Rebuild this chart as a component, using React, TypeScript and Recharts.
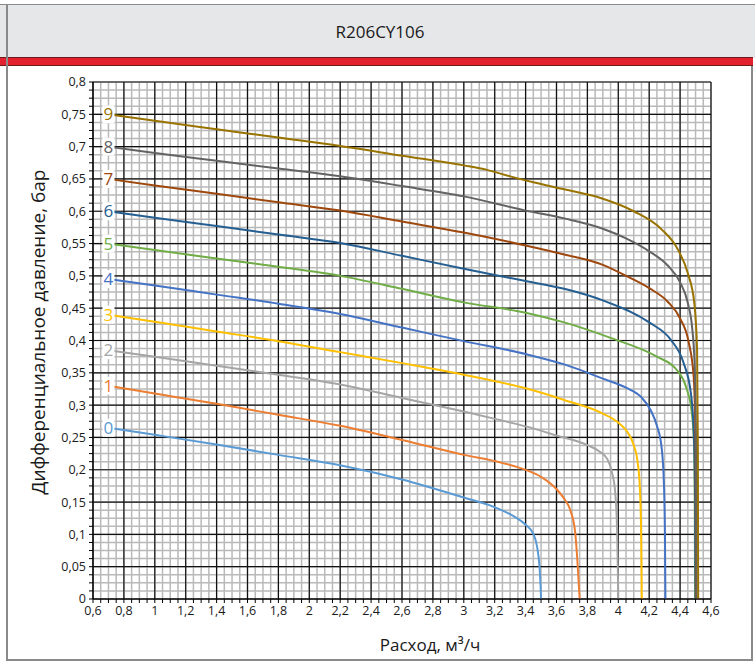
import React from 'react';
import { LineChart, Line, XAxis, YAxis, CartesianGrid, ReferenceLine } from 'recharts';

// номера кривых (положение регулятора) и их цвета
const curveNames = ['0', '1', '2', '3', '4', '5', '6', '7', '8', '9'];
const curveColors = [
  '#5B9BD5', '#ED7D31', '#A5A5A5', '#FFC000', '#4472C4',
  '#70AD47', '#255E91', '#9E480E', '#636363', '#997300',
];

// [расход, м3/ч ; перепад, бар]
const curve0 = [[0.7, 0.265], [1.0, 0.254], [1.4, 0.239], [1.8, 0.223], [2.2, 0.207], [2.6, 0.185], [3.0, 0.157], [3.2, 0.142], [3.33, 0.127], [3.4, 0.115], [3.45, 0.101], [3.475, 0.08], [3.49, 0.05], [3.497, 0.02], [3.5, 0]];
const curve1 = [[0.7, 0.33], [1.0, 0.318], [1.4, 0.302], [1.8, 0.285], [2.2, 0.268], [2.6, 0.246], [3.0, 0.223], [3.24, 0.211], [3.41, 0.199], [3.5, 0.189], [3.6, 0.17], [3.65, 0.155], [3.69, 0.137], [3.72, 0.105], [3.735, 0.06], [3.745, 0.02], [3.75, 0]];
const curve2 = [[0.7, 0.385], [1.0, 0.375], [1.4, 0.361], [1.8, 0.347], [2.2, 0.332], [2.6, 0.311], [3.0, 0.29], [3.25, 0.276], [3.45, 0.264], [3.6, 0.253], [3.8, 0.238], [3.88, 0.228], [3.93, 0.216], [3.96, 0.195], [3.98, 0.165], [3.993, 0.1], [4.0, 0]];
const curve3 = [[0.7, 0.44], [1.0, 0.429], [1.4, 0.414], [1.8, 0.399], [2.2, 0.382], [2.6, 0.365], [3.0, 0.347], [3.4, 0.326], [3.65, 0.308], [3.9, 0.287], [4.0, 0.273], [4.06, 0.258], [4.1, 0.238], [4.125, 0.212], [4.14, 0.17], [4.148, 0.1], [4.152, 0]];
const curve4 = [[0.7, 0.495], [1.0, 0.485], [1.4, 0.471], [1.8, 0.457], [2.2, 0.441], [2.6, 0.42], [3.0, 0.399], [3.4, 0.379], [3.65, 0.363], [3.9, 0.341], [4.05, 0.327], [4.15, 0.312], [4.21, 0.292], [4.25, 0.268], [4.28, 0.235], [4.295, 0.18], [4.302, 0.1], [4.305, 0]];
const curve5 = [[0.7, 0.55], [1.0, 0.54], [1.4, 0.527], [1.8, 0.514], [2.2, 0.5], [2.6, 0.48], [3.0, 0.459], [3.4, 0.443], [3.65, 0.428], [3.95, 0.404], [4.25, 0.375], [4.38, 0.354], [4.44, 0.327], [4.475, 0.29], [4.49, 0.24], [4.495, 0.15], [4.497, 0]];
const curve6 = [[0.7, 0.6], [1.0, 0.59], [1.4, 0.577], [1.8, 0.564], [2.2, 0.551], [2.6, 0.531], [3.0, 0.511], [3.4, 0.492], [3.65, 0.48], [3.9, 0.462], [4.2, 0.428], [4.34, 0.401], [4.42, 0.367], [4.47, 0.318], [4.49, 0.25], [4.497, 0.15], [4.5, 0]];
const curve7 = [[0.7, 0.65], [1.0, 0.64], [1.4, 0.627], [1.8, 0.614], [2.2, 0.601], [2.6, 0.584], [3.0, 0.567], [3.4, 0.547], [3.65, 0.533], [3.9, 0.517], [4.05, 0.5], [4.2, 0.481], [4.32, 0.46], [4.4, 0.434], [4.455, 0.398], [4.488, 0.344], [4.5, 0.24], [4.502, 0.12], [4.504, 0]];
const curve8 = [[0.7, 0.7], [1.0, 0.69], [1.4, 0.678], [1.8, 0.666], [2.2, 0.654], [2.6, 0.639], [3.0, 0.623], [3.4, 0.601], [3.65, 0.589], [3.9, 0.573], [4.05, 0.558], [4.2, 0.538], [4.32, 0.516], [4.4, 0.49], [4.45, 0.458], [4.48, 0.415], [4.496, 0.35], [4.503, 0.23], [4.505, 0.1], [4.506, 0]];
const curve9 = [[0.7, 0.75], [1.0, 0.74], [1.4, 0.727], [1.8, 0.714], [2.2, 0.701], [2.6, 0.686], [3.0, 0.671], [3.15, 0.664], [3.3, 0.654], [3.45, 0.645], [3.65, 0.634], [3.88, 0.621], [4.1, 0.6], [4.28, 0.572], [4.385, 0.541], [4.45, 0.504], [4.492, 0.458], [4.51, 0.385], [4.515, 0.23], [4.517, 0]];
const curves = [curve0, curve1, curve2, curve3, curve4, curve5, curve6, curve7, curve8, curve9];

// подписи осей
const xMajor = [0.6, 0.8, 1, 1.2, 1.4, 1.6, 1.8, 2, 2.2, 2.4, 2.6, 2.8, 3, 3.2, 3.4, 3.6, 3.8, 4, 4.2, 4.4, 4.6];
const yMajor = [0, 0.05, 0.1, 0.15, 0.2, 0.25, 0.3, 0.35, 0.4, 0.45, 0.5, 0.55, 0.6, 0.65, 0.7, 0.75, 0.8];

// мелкая сетка: 4 деления между основными линиями
const subdivide = (major: number[], parts: number) => {
  const out: number[] = [];
  for (let i = 0; i < major.length - 1; i++) {
    const step = (major[i + 1] - major[i]) / parts;
    for (let k = 0; k < parts; k++) out.push(+(major[i] + k * step).toFixed(4));
  }
  out.push(major[major.length - 1]);
  return out;
};
const xTicks = subdivide(xMajor, 4);
const yTicks = subdivide(yMajor, 4);

const isMajor = (v: number, major: number[]) => major.some((m) => Math.abs(m - v) < 1e-6);
const fmt = (v: number) => String(+v.toFixed(2)).replace('.', ',');

const FONT = '"Open Sans", sans-serif';

const tagRenderer = (name: string, color: string) => (props: any) => {
  if (props.index !== 0) return null;
  const { x, y } = props;
  return (
    <g>
      <rect x={x - 6} y={y - 9} width={12} height={18} fill="#fff" />
      <text x={x} y={y} dy="0.36em" textAnchor="middle" fill={color} fontSize={17} fontFamily={FONT}>
        {name}
      </text>
    </g>
  );
};

export default function App() {
  return (
    <div style={{ position: 'absolute', left: 0, top: 0, width: 755, height: 664, background: '#fff', fontFamily: FONT, overflow: 'hidden' }}>
      {/* шапка */}
      <div style={{ position: 'absolute', left: 0, top: 4, width: 755, height: 53, background: '#e6e7e9', borderTop: '1.5px solid #8a8a8a' }} />
      <div style={{ position: 'absolute', left: 5, top: 20, width: 750, textAlign: 'center', fontSize: 17, lineHeight: '24px', color: '#1a1a1a' }}>
        R206CY106
      </div>
      <div style={{ position: 'absolute', left: 0, top: 57, width: 753, height: 7, background: '#e2202e', borderTop: '1px solid #6e1a1a', borderBottom: '1px solid #6e1a1a' }} />
      {/* рамка */}
      <div style={{ position: 'absolute', left: 6, top: 4, width: 2, height: 657, background: '#8a8a8a' }} />
      <div style={{ position: 'absolute', left: 751, top: 66, width: 2, height: 595, background: '#8a8a8a' }} />
      <div style={{ position: 'absolute', left: 6, top: 659, width: 747, height: 2, background: '#8a8a8a' }} />

      <div style={{ position: 'absolute', left: 0, top: 66 }}>
        <LineChart width={750} height={593} margin={{ top: 16, right: 39, left: 48, bottom: 40 }}>
          <CartesianGrid stroke="#b9b9b9" strokeWidth={1.5} />
          <XAxis
            dataKey="x"
            type="number"
            domain={[0.6, 4.6]}
            ticks={xTicks}
            interval={0}
            allowDataOverflow
            height={20}
            tickSize={4}
            tickMargin={3}
            stroke="#000"
            tick={{ fill: '#1a1a1a', fontSize: 12.5, fontFamily: FONT }}
            tickFormatter={(v: number) => (isMajor(v, xMajor) ? fmt(v) : '')}
          />
          <YAxis
            type="number"
            domain={[0, 0.8]}
            ticks={yTicks}
            interval={0}
            allowDataOverflow
            width={45}
            tickSize={4}
            tickMargin={3}
            stroke="#000"
            tick={{ fill: '#1a1a1a', fontSize: 12.5, fontFamily: FONT }}
            tickFormatter={(v: number) => (isMajor(v, yMajor) ? fmt(v) : '')}
          />
          {xMajor.map((v) => (
            <ReferenceLine key={`vx${v}`} x={v} stroke="#111" strokeWidth={1.2} />
          ))}
          {yMajor.map((v) => (
            <ReferenceLine key={`hy${v}`} y={v} stroke="#111" strokeWidth={1.2} />
          ))}
          {curves.map((c, i) => (
            <Line
              key={curveNames[i]}
              data={c.map(([x, y]) => ({ x, y }))}
              dataKey="y"
              type="monotone"
              stroke={curveColors[i]}
              strokeWidth={2}
              dot={false}
              isAnimationActive={false}
              label={tagRenderer(curveNames[i], curveColors[i])}
            />
          ))}
        </LineChart>
      </div>

      {/* подписи осей */}
      <div style={{ position: 'absolute', left: 38 - 200, top: 332 - 14, width: 400, height: 28, lineHeight: '28px', textAlign: 'center', fontSize: 19, color: '#1a1a1a', transform: 'rotate(-90deg)', whiteSpace: 'nowrap' }}>
        Дифференциальное давление, бар
      </div>
      <div style={{ position: 'absolute', left: 330, top: 632, width: 200, lineHeight: '26px', textAlign: 'center', fontSize: 17, color: '#1a1a1a', whiteSpace: 'nowrap' }}>
        Расход, м³/ч
      </div>
    </div>
  );
}
